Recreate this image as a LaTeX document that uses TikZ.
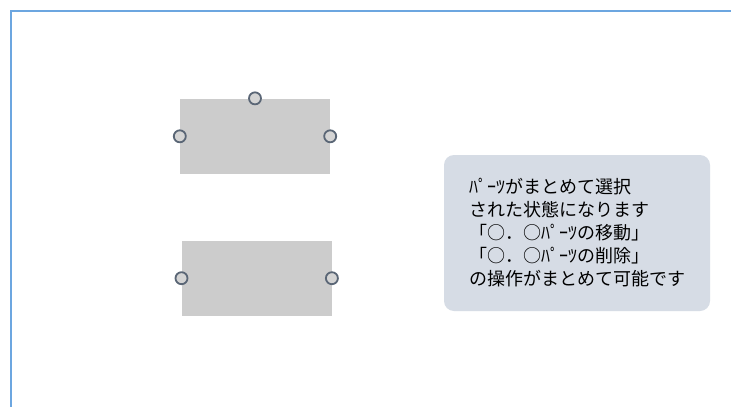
\documentclass[tikz,border=0pt]{standalone}
\usepackage{fontspec}
\newfontfamily\jp{Noto Sans CJK JP}
\definecolor{frameblue}{HTML}{6CA6E0}
\definecolor{partgray}{HTML}{CCCCCC}
\definecolor{handlefill}{HTML}{D4D4D4}
\definecolor{handledraw}{HTML}{5A6676}
\definecolor{calloutfill}{HTML}{D6DCE5}
\tikzset{
  part/.style={rectangle, fill=partgray, inner sep=0pt},
  handle/.style={circle, draw=handledraw, line width=1.8pt, fill=handlefill, minimum size=12pt, inner sep=0pt},
  callout/.style={rectangle, rounded corners=10pt, fill=calloutfill, inner sep=0pt, align=left,
    font=\jp\fontsize{18pt}{23pt}\selectfont},
}
\begin{document}
\begin{tikzpicture}[x=1pt,y=-1pt]
\useasboundingbox (0,0) rectangle (731,407);
\fill[white] (0,0) rectangle (731,407);
% frame
\coordinate (ftl) at (11,11);
\coordinate (fr) at (731,11);
\coordinate (fb) at (11,407);
\draw[frameblue, line width=2pt] (fb) -- (ftl) -- (fr);
% parts
\node[part, minimum width=150pt, minimum height=75.5pt] (top) at (255,136.3) {};
\node[part, minimum width=150pt, minimum height=75pt] (bot) at (256.7,278.2) {};
\node[handle] (h1) at (top.north) {};
\node[handle] (h2) at (top.west) {};
\node[handle] (h3) at (top.east) {};
\node[handle] (h4) at (bot.west) {};
\node[handle] (h5) at (bot.east) {};
% callout
\node[callout, minimum width=266pt, minimum height=156pt] (note) at (577,233)
 {ﾊﾟｰﾂがまとめて選択\\
  された状態になります\\
  「○．○ﾊﾟｰﾂの移動」\\
  「○．○ﾊﾟｰﾂの削除」\\
  の操作がまとめて可能です};
\end{tikzpicture}
\end{document}
